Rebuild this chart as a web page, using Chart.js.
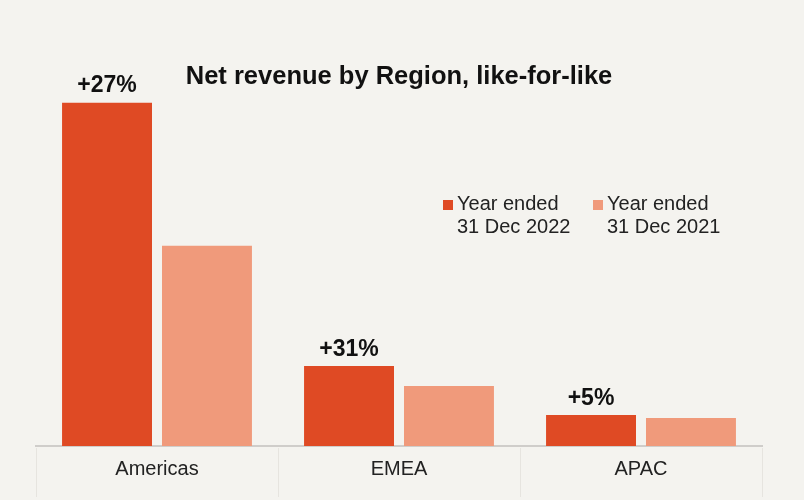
<!DOCTYPE html>
<html>
<head>
<meta charset="utf-8">
<script src="https://cdn.jsdelivr.net/npm/chart.js@4.4.0/dist/chart.umd.min.js"></script>
<style>
  html, body { margin: 0; padding: 0; background: #f4f3ef; }
  #wrap { width: 804px; height: 500px; }
</style>
</head>
<body>
<div id="wrap"><canvas id="chartRegion"></canvas></div>
<script>
// Data (relative net revenue)
const regions = ['Americas', 'EMEA', 'APAC'];
const rev2022 = [343, 80, 31];
const rev2021 = [200, 60, 28];
const growth = ['+27%', '+31%', '+5%'];
const seriesNames = [['Year ended', '31 Dec 2022'], ['Year ended', '31 Dec 2021']];

const C_2022 = '#df4a24', C_2021 = '#f09a7b';
const FONT = '"Liberation Sans", Arial, sans-serif';

// growth labels above the 2022 bars
const growthLabels = {
  id: 'growthLabels',
  afterDatasetsDraw(chart) {
    const ctx = chart.ctx, meta = chart.getDatasetMeta(0);
    ctx.save();
    ctx.font = 'bold 23px ' + FONT;
    ctx.fillStyle = '#111';
    ctx.textAlign = 'center';
    ctx.textBaseline = 'bottom';
    meta.data.forEach((bar, i) => ctx.fillText(growth[i], bar.x, bar.y - 5));
    ctx.restore();
  }
};

// faint separators under the axis
const catDividers = {
  id: 'catDividers',
  beforeDatasetsDraw(chart) {
    const { ctx, chartArea } = chart;
    const w = (chartArea.right - chartArea.left) / regions.length;
    ctx.save();
    ctx.strokeStyle = '#e6e4df';
    ctx.lineWidth = 1;
    for (let i = 0; i <= regions.length; i++) {
      const px = Math.round(chartArea.left + i * w) + 0.5;
      ctx.beginPath();
      ctx.moveTo(px, chartArea.bottom + 2);
      ctx.lineTo(px, 497);
      ctx.stroke();
    }
    ctx.restore();
  }
};

// two-line legend
const sideLegend = {
  id: 'sideLegend',
  afterDraw(chart) {
    const ctx = chart.ctx;
    const xs = [443, 593], y0 = 210;
    ctx.save();
    ctx.font = '20px ' + FONT;
    ctx.textBaseline = 'alphabetic';
    ctx.textAlign = 'left';
    chart.data.datasets.forEach((ds, i) => {
      ctx.fillStyle = ds.backgroundColor;
      ctx.fillRect(xs[i], y0 - 10, 10, 10);
      ctx.fillStyle = '#222';
      seriesNames[i].forEach((line, j) => ctx.fillText(line, xs[i] + 14, y0 + j * 23));
    });
    ctx.restore();
  }
};

new Chart(document.getElementById('chartRegion'), {
  type: 'bar',
  data: {
    labels: regions,
    datasets: [
      { label: 'Year ended 31 Dec 2022', data: rev2022, backgroundColor: C_2022 },
      { label: 'Year ended 31 Dec 2021', data: rev2021, backgroundColor: C_2021 }
    ]
  },
  options: {
    responsive: true, maintainAspectRatio: false, animation: false,
    layout: { padding: { left: 36, right: 42, bottom: 8 } },
    categoryPercentage: 0.826, barPercentage: 0.9,
    plugins: {
      legend: { display: false },
      tooltip: { enabled: false },
      title: {
        display: true,
        text: 'Net revenue by Region, like-for-like',
        color: '#111',
        font: { family: FONT, size: 25.5, weight: 'bold' },
        padding: { top: 62, bottom: 10 }
      }
    },
    scales: {
      y: { display: false, min: 0, max: 343 },
      x: {
        grid: { display: false, drawTicks: false },
        border: { display: true, color: '#cfcdca', width: 2 },
        ticks: { color: '#222', font: { family: FONT, size: 20 }, padding: 11 }
      }
    }
  },
  plugins: [growthLabels, catDividers, sideLegend]
});
</script>
</body>
</html>
